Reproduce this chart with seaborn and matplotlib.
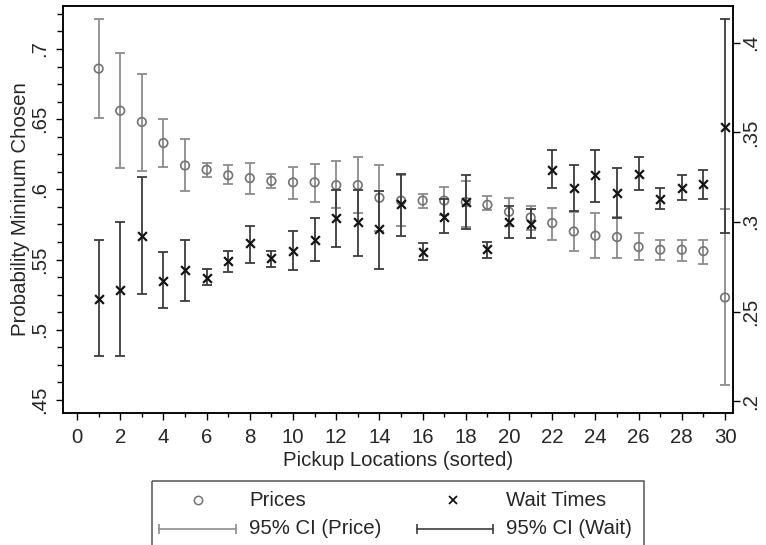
import numpy as np
import pandas as pd
import seaborn as sns
import matplotlib
matplotlib.use("Agg")
import matplotlib.pyplot as plt
from matplotlib.ticker import MultipleLocator, FixedLocator, FuncFormatter
from matplotlib.lines import Line2D
from matplotlib.patches import Rectangle

# ---------------- data ----------------
locations = list(range(1, 31))
price_mean = [0.686, 0.656, 0.648, 0.633, 0.617, 0.614, 0.610, 0.608, 0.606, 0.605,
              0.605, 0.603, 0.603, 0.594, 0.592, 0.592, 0.592, 0.591, 0.589, 0.584,
              0.580, 0.576, 0.570, 0.567, 0.566, 0.559, 0.557, 0.557, 0.556, 0.523]
price_lo = [0.651, 0.615, 0.613, 0.616, 0.599, 0.609, 0.604, 0.597, 0.601, 0.593,
            0.591, 0.587, 0.583, 0.570, 0.574, 0.587, 0.582, 0.573, 0.585, 0.574,
            0.571, 0.564, 0.556, 0.551, 0.551, 0.550, 0.550, 0.549, 0.547, 0.461]
price_hi = [0.721, 0.697, 0.682, 0.650, 0.636, 0.619, 0.617, 0.619, 0.611, 0.616,
            0.618, 0.620, 0.623, 0.617, 0.610, 0.597, 0.602, 0.606, 0.595, 0.594,
            0.588, 0.587, 0.584, 0.583, 0.580, 0.569, 0.564, 0.564, 0.564, 0.586]
wait_mean = [0.257, 0.262, 0.292, 0.267, 0.273, 0.269, 0.278, 0.288, 0.280, 0.284,
             0.290, 0.302, 0.300, 0.296, 0.310, 0.283, 0.303, 0.311, 0.285, 0.300,
             0.299, 0.329, 0.319, 0.326, 0.316, 0.327, 0.313, 0.319, 0.321, 0.353]
wait_lo = [0.225, 0.225, 0.260, 0.252, 0.256, 0.265, 0.272, 0.277, 0.275, 0.273,
           0.278, 0.286, 0.281, 0.274, 0.292, 0.279, 0.294, 0.296, 0.280, 0.291,
           0.291, 0.319, 0.306, 0.311, 0.302, 0.318, 0.307, 0.312, 0.313, 0.294]
wait_hi = [0.290, 0.300, 0.325, 0.283, 0.290, 0.274, 0.284, 0.298, 0.284, 0.295,
           0.302, 0.318, 0.318, 0.317, 0.327, 0.288, 0.313, 0.326, 0.289, 0.309,
           0.307, 0.340, 0.332, 0.340, 0.330, 0.336, 0.319, 0.326, 0.329, 0.413]

left_ticks = [0.45, 0.5, 0.55, 0.6, 0.65, 0.7]
right_ticks = [0.2, 0.25, 0.3, 0.35, 0.4]
x_ticks = list(range(0, 31, 2))

legend_labels = ["Prices", "Wait Times", "95% CI (Price)", "95% CI (Wait)"]

df = pd.DataFrame({"location": locations, "price": price_mean, "price_lo": price_lo,
                   "price_hi": price_hi, "wait": wait_mean, "wait_lo": wait_lo,
                   "wait_hi": wait_hi})

# ---------------- style ----------------
sns.set_style("white")
plt.rcParams["font.family"] = ["Liberation Sans", "DejaVu Sans"]
FS = 14.7
plt.rcParams["font.size"] = FS

PRICE_CI = "#8c8c8c"
PRICE_MK = "#737373"
WAIT_CI = "#3d3d3d"
WAIT_MK = "#141414"

W, H = 766, 545
fig = plt.figure(figsize=(W / 100, H / 100), dpi=100)
L, R, T, B = 63, 733, 6, 413
ax = fig.add_axes([L / W, 1 - B / H, (R - L) / W, (B - T) / H])
ax2 = ax.twinx()

# price (left axis)
ax.errorbar(df["location"], df["price"],
            yerr=[df["price"] - df["price_lo"], df["price_hi"] - df["price"]],
            fmt="none", ecolor=PRICE_CI, elinewidth=1.3, capsize=3.4, capthick=1.3, zorder=2)
sns.scatterplot(data=df, x="location", y="price", ax=ax, marker="o", s=38,
                facecolor="none", edgecolor=PRICE_MK, linewidth=1.2, zorder=3)

# wait (right axis)
ax2.errorbar(df["location"], df["wait"],
             yerr=[df["wait"] - df["wait_lo"], df["wait_hi"] - df["wait"]],
             fmt="none", ecolor=WAIT_CI, elinewidth=1.3, capsize=3.4, capthick=1.3, zorder=2)
sns.scatterplot(data=df, x="location", y="wait", ax=ax2, marker="x", s=40,
                color=WAIT_MK, linewidth=1.6, zorder=3)

# limits
ax.set_xlim(-0.65, 30.37)
ax.set_ylim(0.4407, 0.7306)
ax2.set_ylim(0.1934, 0.4205)


def fmt(v, pos=None):
    s = f"{v:.2f}".rstrip("0")
    return s[1:] if s.startswith("0") else s


ax.yaxis.set_major_locator(FixedLocator(left_ticks))
ax.yaxis.set_minor_locator(MultipleLocator(0.0125))
ax.yaxis.set_major_formatter(FuncFormatter(fmt))
ax2.yaxis.set_major_locator(FixedLocator(right_ticks))
ax2.yaxis.set_major_formatter(FuncFormatter(fmt))
ax.xaxis.set_major_locator(FixedLocator(x_ticks))
ax.xaxis.set_minor_locator(MultipleLocator(1))

ax.tick_params(axis="x", which="major", direction="out", length=5, width=1, pad=6,
               labelsize=FS, bottom=True, color="black")
ax.tick_params(axis="x", which="minor", direction="out", length=2.8, width=1,
               bottom=True, color="black")
ax.tick_params(axis="y", which="major", direction="out", length=5, width=1, pad=5,
               labelsize=FS, left=True, right=False, color="black")
ax.tick_params(axis="y", which="minor", direction="out", length=4, width=1,
               left=True, right=False, color="black")
ax2.tick_params(axis="y", which="major", direction="out", length=5, width=1, pad=0.5,
                labelsize=FS, right=True, left=False, color="black")

for lab in ax.get_yticklabels():
    lab.set_rotation(90)
    lab.set_va("center")
for lab in ax2.get_yticklabels():
    lab.set_rotation(90)
    lab.set_va("center")

ax.set_xlabel("Pickup Locations (sorted)", fontsize=FS, labelpad=3)
ax.set_ylabel("Probability Mininum Chosen", fontsize=FS, labelpad=0)
ax2.set_ylabel("")

for a in (ax, ax2):
    for sp in a.spines.values():
        sp.set_color("black")
        sp.set_linewidth(1.1)

# ---------------- legend (figure pixel coordinates) ----------------
lax = fig.add_axes([0, 0, 1, 1], zorder=-1)
lax.set_xlim(0, W)
lax.set_ylim(H, 0)
lax.axis("off")
lax.add_patch(Rectangle((152, 481), 492, 90, fill=False, edgecolor="#555555",
                        linewidth=1.1, clip_on=False))
row1, row2 = 500, 529
lax.add_line(Line2D([198], [row1], marker="o", markersize=6, markerfacecolor="none",
                    markeredgecolor=PRICE_MK, markeredgewidth=1.1, linestyle="none"))
lax.add_line(Line2D([453], [row1], marker="x", markersize=6, color=WAIT_MK,
                    markeredgewidth=1.3, linestyle="none"))
lax.add_line(Line2D([159, 236], [row2, row2], color=PRICE_CI, linewidth=1.2,
                    marker="|", markersize=7, markeredgewidth=1.2))
lax.add_line(Line2D([417, 493], [row2, row2], color=WAIT_CI, linewidth=1.2,
                    marker="|", markersize=7, markeredgewidth=1.2))
lax.text(249, row1, legend_labels[0], va="center", ha="left", fontsize=FS)
lax.text(506, row1, legend_labels[1], va="center", ha="left", fontsize=FS)
lax.text(249, row2, legend_labels[2], va="center", ha="left", fontsize=FS)
lax.text(506, row2, legend_labels[3], va="center", ha="left", fontsize=FS)

fig.savefig("out.png", dpi=100)
